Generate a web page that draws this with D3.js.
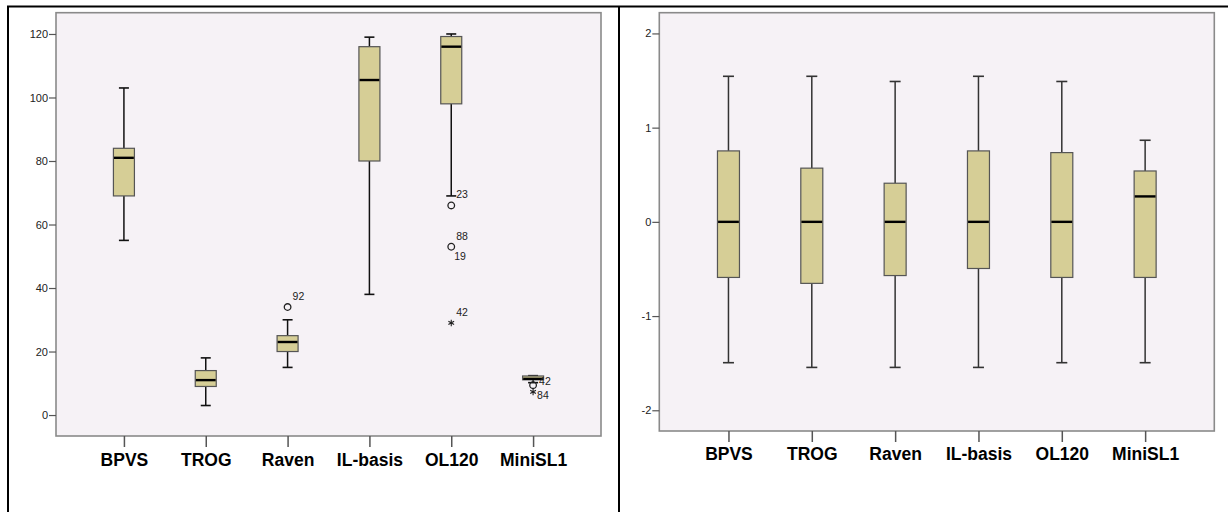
<!DOCTYPE html>
<html>
<head>
<meta charset="utf-8">
<script src="https://cdn.jsdelivr.net/npm/d3@7"></script>
<style>
  html, body { margin: 0; padding: 0; background: #ffffff; }
  svg { display: block; font-family: "Liberation Sans", Arial, sans-serif; }
</style>
</head>
<body>
<svg id="chart" width="1228" height="512"></svg>
<script>
// ---------- DATA ----------
const categories = ["BPVS", "TROG", "Raven", "IL-basis", "OL120", "MiniSL1"];

// Left panel: raw scores
const rawTicks = [0, 20, 40, 60, 80, 100, 120];
const rawMin    = [55, 3, 15, 38, 69, 10.2];
const rawQ1     = [69, 9, 20, 80, 98, 11.1];
const rawMedian = [81, 11, 23, 105.5, 116, 11.4];
const rawQ3     = [84, 14, 25, 116, 119.2, 12.3];
const rawMax    = [103, 18, 30, 119, 120, 12.4];
const rawOutliers = [
  { cat: "Raven",   value: 34,  shape: "circle", labels: [{ text: "92", pos: "above" }] },
  { cat: "OL120",   value: 66,  shape: "circle", labels: [{ text: "23", pos: "above" }] },
  { cat: "OL120",   value: 53,  shape: "circle", labels: [{ text: "88", pos: "above" }, { text: "19", pos: "below" }] },
  { cat: "OL120",   value: 29,  shape: "star",   labels: [{ text: "42", pos: "above" }] },
  { cat: "MiniSL1", value: 9.4, shape: "circle", labels: [{ text: "42", pos: "right" }] },
  { cat: "MiniSL1", value: 7.3, shape: "star",   labels: [{ text: "84", pos: "belowright" }] }
];

// Right panel: standardized scores
const zTicks = [-2, -1, 0, 1, 2];
const zMin    = [-1.495, -1.545, -1.545, -1.545, -1.495, -1.495];
const zQ1     = [-0.59, -0.653, -0.57, -0.495, -0.59, -0.59];
const zMedian = [0, 0, 0, 0, 0, 0.27];
const zQ3     = [0.753, 0.57, 0.41, 0.753, 0.735, 0.54];
const zMax    = [1.545, 1.545, 1.49, 1.545, 1.49, 0.866];

// ---------- DRAW ----------
const svg = d3.select("#chart");

// outer frame lines
svg.append("line").attr("x1", 7).attr("x2", 1228).attr("y1", 6.5).attr("y2", 6.5)
  .attr("stroke", "#000").attr("stroke-width", 2);
svg.append("line").attr("x1", 8).attr("x2", 8).attr("y1", 6).attr("y2", 512)
  .attr("stroke", "#000").attr("stroke-width", 2);
svg.append("line").attr("x1", 619).attr("x2", 619).attr("y1", 6).attr("y2", 512)
  .attr("stroke", "#000").attr("stroke-width", 2);

function drawPanel(opts) {
  const { x0, x1, y0, y1, domain, ticks, mins, q1s, meds, q3s, maxs, outliers,
          boxW, capW, whiskerColor, labelBaselinePad } = opts;
  const g = svg.append("g");
  const x = d3.scalePoint().domain(categories).range([x0, x1]).padding(0.83);
  const y = d3.scaleLinear().domain(domain).range([y1, y0]);

  // plot background + border
  g.append("rect").attr("x", x0).attr("y", y0).attr("width", x1 - x0).attr("height", y1 - y0)
    .attr("fill", "#f6f2f6").attr("stroke", "#8a8a8a").attr("stroke-width", 1.6);

  // y axis
  const yAxis = d3.axisLeft(y).tickValues(ticks).tickSize(7).tickPadding(1)
    .tickFormat(d => String(d));
  const ya = g.append("g").attr("transform", `translate(${x0},0)`).call(yAxis);
  ya.select(".domain").remove();
  ya.selectAll(".tick line").attr("stroke", "#555").attr("stroke-width", 1.2);
  ya.selectAll(".tick text").attr("fill", "#222").style("font-size", "11px")
    .style("font-family", "'Liberation Sans', Arial, sans-serif");

  // x axis
  const xAxis = d3.axisBottom(x).tickSize(11).tickPadding(labelBaselinePad);
  const xa = g.append("g").attr("transform", `translate(0,${y1})`).call(xAxis);
  xa.select(".domain").remove();
  xa.selectAll(".tick line").attr("stroke", "#555").attr("stroke-width", 1.5);
  xa.selectAll(".tick text").attr("fill", "#000").style("font-size", "17.5px")
    .style("font-weight", "bold").style("font-family", "'Liberation Sans', Arial, sans-serif");

  // boxes
  const data = categories.map((c, i) => ({ c, min: mins[i], q1: q1s[i], med: meds[i], q3: q3s[i], max: maxs[i] }));
  const bg = g.selectAll("g.box").data(data).join("g").attr("class", "box");

  // whiskers
  bg.append("line").attr("x1", d => x(d.c)).attr("x2", d => x(d.c))
    .attr("y1", d => y(d.max)).attr("y2", d => y(d.q3))
    .attr("stroke", whiskerColor).attr("stroke-width", 1.5);
  bg.append("line").attr("x1", d => x(d.c)).attr("x2", d => x(d.c))
    .attr("y1", d => y(d.q1)).attr("y2", d => y(d.min))
    .attr("stroke", whiskerColor).attr("stroke-width", 1.5);
  // caps
  bg.append("line").attr("x1", d => x(d.c) - capW / 2).attr("x2", d => x(d.c) + capW / 2)
    .attr("y1", d => y(d.max)).attr("y2", d => y(d.max))
    .attr("stroke", whiskerColor).attr("stroke-width", 1.6);
  bg.append("line").attr("x1", d => x(d.c) - capW / 2).attr("x2", d => x(d.c) + capW / 2)
    .attr("y1", d => y(d.min)).attr("y2", d => y(d.min))
    .attr("stroke", whiskerColor).attr("stroke-width", 1.6);
  // box
  bg.append("rect").attr("x", d => x(d.c) - boxW / 2).attr("width", boxW)
    .attr("y", d => y(d.q3)).attr("height", d => Math.max(1, y(d.q1) - y(d.q3)))
    .attr("fill", "#d6ce96").attr("stroke", "#555").attr("stroke-width", 1.2);
  // median
  bg.append("line").attr("x1", d => x(d.c) - boxW / 2 + 0.6).attr("x2", d => x(d.c) + boxW / 2 - 0.6)
    .attr("y1", d => y(d.med)).attr("y2", d => y(d.med))
    .attr("stroke", "#000").attr("stroke-width", 2.4);

  // outliers
  const og = g.selectAll("g.out").data(outliers || []).join("g").attr("class", "out")
    .attr("transform", d => `translate(${x(d.cat)},${y(d.value)})`);
  og.filter(d => d.shape === "circle").append("circle").attr("r", 3.3)
    .attr("fill", "none").attr("stroke", "#222").attr("stroke-width", 1.3);
  og.filter(d => d.shape === "star").append("path")
    .attr("d", d3.symbol(d3.symbolAsterisk, 30))
    .attr("fill", "none").attr("stroke", "#222").attr("stroke-width", 1.1);
  og.each(function (d) {
    const sel = d3.select(this);
    d.labels.forEach(l => {
      let dx = 5, dy = -7;
      if (l.pos === "below") { dx = 3; dy = 13; }
      if (l.pos === "right") { dx = 6; dy = 0; }
      if (l.pos === "belowright") { dx = 4; dy = 7; }
      sel.append("text").attr("x", dx).attr("y", dy).text(l.text)
        .attr("fill", "#222").style("font-size", "10.5px");
    });
  });
}

drawPanel({
  x0: 56, x1: 601, y0: 12.7, y1: 436,
  domain: [-6.6, 126.7], ticks: rawTicks,
  mins: rawMin, q1s: rawQ1, meds: rawMedian, q3s: rawQ3, maxs: rawMax,
  outliers: rawOutliers, boxW: 21, capW: 10, whiskerColor: "#111",
  labelBaselinePad: 6.6
});

drawPanel({
  x0: 659.3, x1: 1214.3, y0: 12.7, y1: 431,
  domain: [-2.22, 2.22], ticks: zTicks,
  mins: zMin, q1s: zQ1, meds: zMedian, q3s: zQ3, maxs: zMax,
  outliers: [], boxW: 22, capW: 11, whiskerColor: "#333",
  labelBaselinePad: 5.6
});
</script>
</body>
</html>
